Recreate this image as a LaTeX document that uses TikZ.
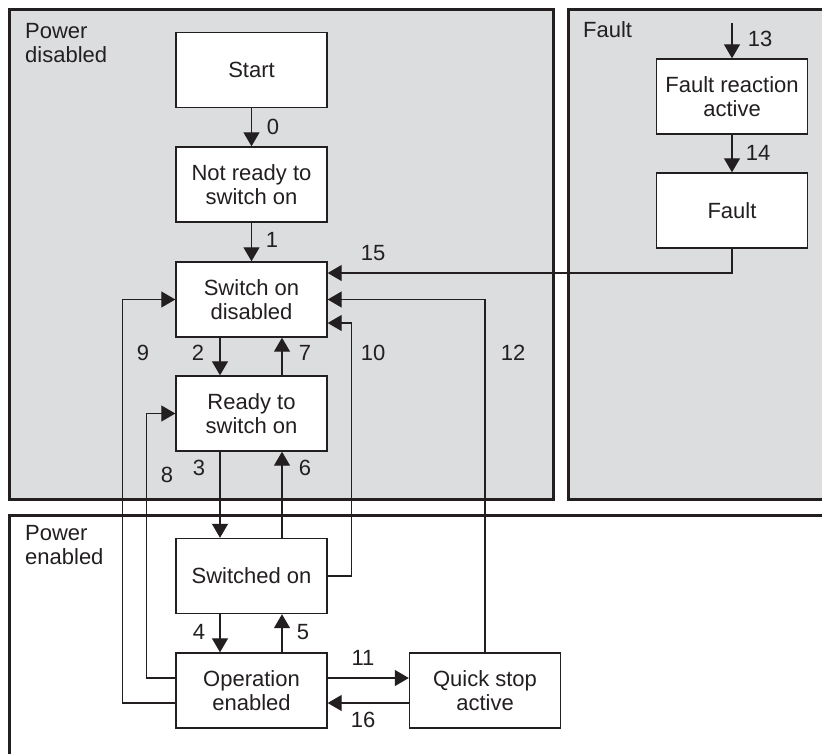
\documentclass[tikz,border=0pt]{standalone}
\usepackage{fontspec}
\setmainfont{Liberation Sans}
\usetikzlibrary{arrows.meta}
\definecolor{regfill}{RGB}{220,221,223}
\definecolor{ink}{RGB}{35,31,32}
\begin{document}
\begin{tikzpicture}[x=1pt,y=-1pt,
  every node/.style={font=\fontsize{22}{24.5}\selectfont, text=ink},
  region/.style={draw=ink, line width=3pt},
  regtext/.style={anchor=north west, inner sep=0pt, align=left},
  state/.style={draw=ink, fill=white, line width=1.4pt, minimum width=151pt, minimum height=75pt, inner sep=0pt, align=center},
  arr/.style={draw=ink, line width=1.3pt, -{Triangle[length=14pt,width=16pt]}},
  num/.style={inner sep=0pt, anchor=center}]
\useasboundingbox (0,0) rectangle (822,753);
% regions
\path[region, fill=regfill] (9,9) rectangle (553,499);
\path[region, fill=regfill] (568,9) rectangle (850,499);
\path[region, fill=white] (9,515) rectangle (850,780);
\node[regtext] (lpd) at (25,23) {Power\\disabled};
\node[regtext] (lf) at (583,21) {Fault};
\node[regtext] (lpe) at (25,525) {Power\\enabled};
% states
\node[state] (start) at (251.5,70) {Start};
\node[state] (nrd) at (251.5,184.5) {Not ready to\\switch on};
\node[state] (sod) at (251.5,299.5) {Switch on\\disabled};
\node[state] (rdy) at (251.5,413.5) {Ready to\\switch on};
\node[state] (son) at (251.5,576) {Switched on};
\node[state] (op) at (251.5,690.5) {Operation\\enabled};
\node[state] (qs) at (485,690.5) {Quick stop\\active};
\node[state] (fra) at (732,96.5) {Fault reaction\\active};
\node[state] (flt) at (732,210.5) {Fault};
\coordinate (in13) at (732,23);
% transitions
\draw[arr] (start) -- (nrd);
\draw[arr] (nrd) -- (sod);
\draw[arr] ([xshift=-31.5pt]sod.south) -- ([xshift=-31.5pt]rdy.north);
\draw[arr] ([xshift=30.5pt]rdy.north) -- ([xshift=30.5pt]sod.south);
\draw[arr] ([xshift=-31.5pt]rdy.south) -- ([xshift=-31.5pt]son.north);
\draw[arr] ([xshift=30.5pt]son.north) -- ([xshift=30.5pt]rdy.south);
\draw[arr] ([xshift=-31.5pt]son.south) -- ([xshift=-31.5pt]op.north);
\draw[arr] ([xshift=30.5pt]op.north) -- ([xshift=30.5pt]son.south);
\draw[arr] ([yshift=12.5pt]op.west) -| ([xshift=-29pt]rdy.west) -- (rdy.west);
\draw[arr] ([yshift=-12.5pt]op.west) -| ([xshift=-53pt]sod.west) -- (sod.west);
\draw[arr] (son.east) -| ([xshift=24pt,yshift=-23.5pt]sod.east) -- ([yshift=-23.5pt]sod.east);
\draw[arr] ([yshift=12.5pt]op.east) -- ([yshift=12.5pt]qs.west);
\draw[arr] ([yshift=-12.5pt]qs.west) -- ([yshift=-12.5pt]op.east);
\draw[arr] (qs.north) |- (sod.east);
\draw[arr] (flt.south) |- ([yshift=26.5pt]sod.east);
\draw[arr] (in13) -- (fra.north);
\draw[arr] (fra) -- (flt);
% labels
\node[num] (n0) at (273,127) {0};
\node[num] (n1) at (272,240) {1};
\node[num] (n15) at (373,253) {15};
\node[num] (n9) at (143,353) {9};
\node[num] (n2) at (198,353) {2};
\node[num] (n7) at (305,353) {7};
\node[num] (n10) at (373,353) {10};
\node[num] (n12) at (513,353) {12};
\node[num] (n8) at (167,475) {8};
\node[num] (n3) at (199,468) {3};
\node[num] (n6) at (305,468) {6};
\node[num] (n4) at (199,632) {4};
\node[num] (n5) at (303,632) {5};
\node[num] (n11) at (363,658) {11};
\node[num] (n16) at (363,720) {16};
\node[num] (n13) at (760,39) {13};
\node[num] (n14) at (758,153) {14};
\end{tikzpicture}
\end{document}
